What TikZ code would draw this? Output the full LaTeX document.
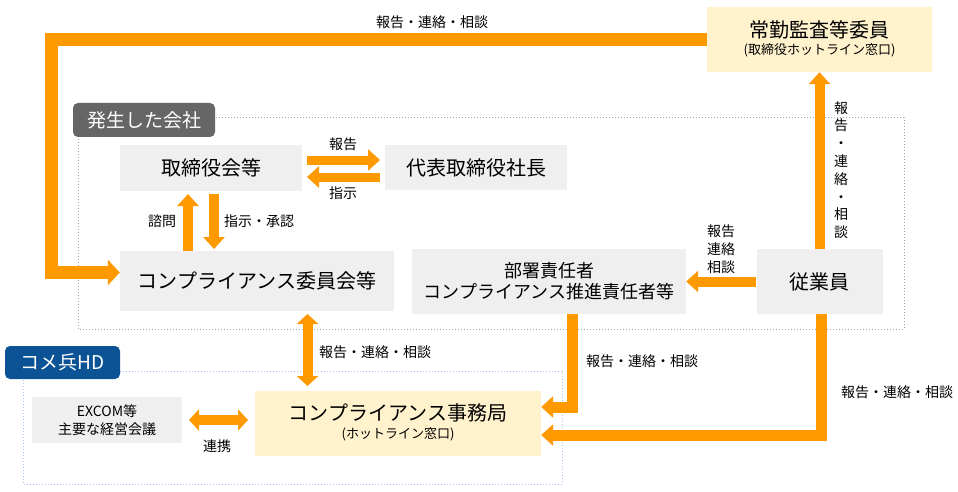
\documentclass[tikz,border=0pt]{standalone}
\usepackage{fontspec}
\setmainfont{Noto Sans CJK JP}
\usetikzlibrary{arrows.meta}
\definecolor{arrowor}{HTML}{FF9900}
\definecolor{boxgray}{HTML}{EFEFEF}
\definecolor{boxcream}{HTML}{FFF2CC}
\definecolor{taggray}{HTML}{666666}
\definecolor{tagblue}{HTML}{0B5394}
\definecolor{hdline}{HTML}{A4C2F4}
\newcommand{\fsz}[2]{\fontsize{#1}{#2}\selectfont}
\begin{document}
\begin{tikzpicture}[x=1pt, y=-1pt, line join=miter, line cap=butt,
		box/.style={fill=boxgray, inner sep=0pt, align=center, font=\fsz{20}{24}},
		tag/.style={rounded corners=5pt, text=white, inner sep=0pt, font=\fsz{19}{22}},
		lbl/.style={inner sep=0pt, align=center, font=\fsz{14}{18}},
		frame/.style={dotted, line width=1pt},
		arr/.style={draw=arrowor, line width=10pt, -{Triangle[width=21pt,length=12pt]}},
		darr/.style={arr, {Triangle[width=21pt,length=10pt]}-{Triangle[width=21pt,length=10pt]}}]
				\useasboundingbox (0,0) rectangle (958,492);
				\path (51,39.5) coordinate (loopA)
				(51,272.5) coordinate (loopB)
				(307,160) coordinate (repA)
				(380,160) coordinate (repB)
				(380,177) coordinate (insA)
				(307,177) coordinate (insB)
				(188,251) coordinate (askA)
				(188,194) coordinate (askB)
				(214,194) coordinate (apprA)
				(214,249) coordinate (apprB)
				(572.5,407) coordinate (deptbend)
				(821,435) coordinate (staffbend)
				(307.5,314) coordinate (hdA)
				(307.5,386) coordinate (hdB)
				(189,420) coordinate (tieA)
				(248,420) coordinate (tieB);
				\draw[frame, draw=gray!70] (78,118) rectangle (904,329);
				\draw[frame, draw=hdline] (23,371) rectangle (562,484);
				\node[tag, fill=taggray, minimum width=142, minimum height=34] (tagcompany) at (144,120) {発生した会社};
				\node[tag, fill=tagblue, minimum width=115, minimum height=33] (taghd) at (62.5,362.5) {コメ兵HD};
				\node[box, fill=boxcream, minimum width=225, minimum height=65] (audit) at (819.5,39.5) {};
				\node[font=\fsz{20}{24}] (audittitle) at (819.5,30) {常勤監査等委員};
				\node[font=\fsz{13}{15}] (auditsub) at (819.5,50) {(取締役ホットライン窓口)};
				\node[box, minimum width=182, minimum height=46] (board) at (211,168) {取締役会等};
				\node[box, minimum width=182, minimum height=45] (ceo) at (476,167.5) {代表取締役社長};
				\node[box, minimum width=274, minimum height=60] (comm) at (257,281) {コンプライアンス委員会等};
				\node[box, minimum width=274, minimum height=65, font=\fsz{18}{21}] (dept) at (549,281.5) {部署責任者\\コンプライアンス推進責任者等};
				\node[box, minimum width=126, minimum height=65] (staff) at (819.5,281.5) {従業員};
				\node[box, minimum width=150, minimum height=46, font=\fsz{14}{18}] (excom) at (107,420) {EXCOM等\\主要な経営会議};
				\node[box, fill=boxcream, minimum width=286, minimum height=65] (office) at (398,423.5) {};
				\node[font=\fsz{20}{24}] (officetitle) at (398,413) {コンプライアンス事務局};
				\node[font=\fsz{13}{15}] (officesub) at (398,434) {(ホットライン窓口)};
				\draw[arr, line width=13pt, -{Triangle[width=25pt,length=12pt]}] (audit.west) -- (loopA) -- (loopB) -- (comm.west |- loopB);
				\draw[arr, line width=9pt] (repA) -- (repB);
				\draw[arr, line width=9pt] (insA) -- (insB);
				\draw[arr] (askA) -- (askB);
				\draw[arr] (apprA) -- (apprB);
				\draw[arr] (staff.north) -- (audit.south);
				\draw[arr] (staff.west) -- (dept.east);
				\draw[arr, line width=11pt] (deptbend |- dept.south) -- (deptbend) -- (office.east |- deptbend);
				\draw[arr, line width=11pt] (staffbend |- staff.south) -- (staffbend) -- (office.east |- staffbend);
				\draw[darr] (hdA) -- (hdB);
				\draw[darr] (tieA) -- (tieB);
				\node[lbl] (looplbl) at (432,22) {報告・連絡・相談};
				\node[lbl] (replbl) at (343,144) {報告};
				\node[lbl] (inslbl) at (343,193) {指示};
				\node[lbl] (asklbl) at (162,221) {諮問};
				\node[lbl] (apprlbl) at (259,221) {指示・承認};
				\node[lbl, font=\fsz{14}{17.8}] (uplbl) at (841,170) {報\\告\\・\\連\\絡\\・\\相\\談};
				\node[lbl] (deptlbl) at (721,249) {報告\\連絡\\相談};
				\node[lbl] (hdlbl) at (375,352) {報告・連絡・相談};
				\node[lbl] (officelbl) at (642,361) {報告・連絡・相談};
				\node[lbl] (stafflbl) at (897,392) {報告・連絡・相談};
				\node[lbl] (tielbl) at (217,446) {連携};
			\end{tikzpicture}
\end{document}
